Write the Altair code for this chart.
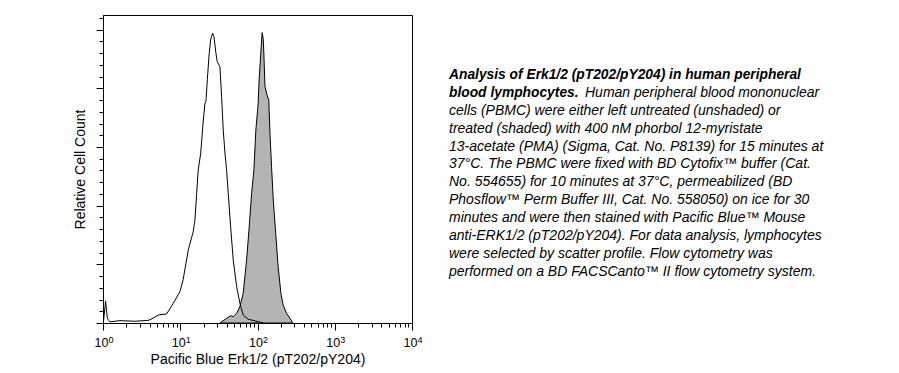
import altair as alt
import pandas as pd

# Untreated (unshaded) histogram: intensity vs relative count
untreated_x = [1.01, 1.08, 1.14, 1.23, 1.66, 2.59, 3.82, 4.06, 5.19, 6.67, 8.12, 9.91, 10.9, 12.7,
               14.7, 15.5, 16.3, 17.1, 18.4, 19.9, 20.9, 21.5, 22.4, 23.7, 24.7, 26.2, 27.3, 29.0,
               30.1, 32.6, 34.3, 36.0, 37.9, 39.8, 41.8, 44.9, 48.5, 53.7, 59.2, 65.3, 75.8, 107, 119]
untreated_y = [0, 7.5, 1.5, 0.4, 0.8, 0.6, 0.9, 1.1, 2.7, 3.1, 6.7, 10.7, 14.8, 24.9,
               31.1, 35.1, 44.2, 52.2, 57.9, 69.2, 74.9, 75.5, 82.9, 91.9, 96.5, 98.8, 97.6, 91.9,
               89.1, 87.4, 77.2, 65.9, 57.9, 52.2, 44.2, 32.8, 21.5, 12.4, 6.7, 2.7, 1.3, 0.3, 0]

# PMA treated (shaded) histogram
treated_x = [32.6, 39.8, 44.9, 48.5, 53.7, 59.2, 65.3, 72.3, 78.1, 83.9, 89.8, 95.3, 102, 105,
             110, 113, 115, 119, 121, 125, 133, 140, 145, 152, 160, 172, 185, 201, 215, 238,
             263, 281, 287]
treated_y = [0, 1.6, 2.5, 2.2, 3.3, 5.6, 10.1, 21.5, 32.8, 44.2, 52.2, 65.9, 74.9, 82.9,
             91.4, 96.5, 99.0, 96.5, 91.4, 80.6, 77.7, 76.0, 64.7, 53.3, 41.9, 30.6, 19.2, 10.1, 6.1, 3.3,
             1.6, 0.4, 0]

decades = [1, 10, 100, 1000, 10000]
exponents = ["0", "1", "2", "3", "4"]
x_ticks = [m * d for d in [1, 10, 100, 1000] for m in range(1, 10)] + [10000]
y_ticks = list(range(0, 105, 4))
y_major = [0, 20, 40, 60, 80, 100]

x_title = "Pacific Blue Erk1/2 (pT202/pY204)"
y_title = "Relative Cell Count"

caption_bold = ["Analysis of Erk1/2 (pT202/pY204) in human peripheral", "blood lymphocytes."]
caption_line2_rest = "Human peripheral blood mononuclear"
caption_rest = [
    "cells (PBMC) were either left untreated (unshaded) or",
    "treated (shaded) with 400 nM phorbol 12-myristate",
    "13-acetate (PMA) (Sigma, Cat. No. P8139) for 15 minutes at",
    "37\u00b0C. The PBMC were fixed with BD Cytofix\u2122 buffer (Cat.",
    "No. 554655) for 10 minutes at 37\u00b0C, permeabilized (BD",
    "Phosflow\u2122 Perm Buffer III, Cat. No. 558050) on ice for 30",
    "minutes and were then stained with Pacific Blue\u2122 Mouse",
    "anti-ERK1/2 (pT202/pY204). For data analysis, lymphocytes",
    "were selected by scatter profile. Flow cytometry was",
    "performed on a BD FACSCanto\u2122 II flow cytometry system.",
]

FONT = "Liberation Sans"

major_x_test = "indexof([" + ",".join(str(d) for d in decades) + "], datum.value) >= 0"
major_y_test = "indexof([" + ",".join(str(d) for d in y_major) + "], datum.value) >= 0"
label_expr = major_x_test.replace(">= 0", ">= 0 ? '10' : ''")

x_scale = alt.Scale(type="log", domain=[1, 10000], nice=False)
y_scale = alt.Scale(domain=[0, 105], nice=False, zero=True)

x_axis = alt.Axis(
    title=x_title, values=x_ticks, labelExpr=label_expr, labelFlush=False, labelOverlap=False,
    grid=False, domainColor="black", tickColor="black",
    tickSize={"condition": {"test": major_x_test, "value": 7}, "value": 4},
    labelFont=FONT, labelFontSize=12.5, labelColor="black", labelPadding=6, labelOffset=-2,
    titleFont=FONT, titleFontSize=14, titleFontWeight="normal", titleColor="black", titlePadding=4,
)
y_axis = alt.Axis(
    title=y_title, values=y_ticks, labels=False, grid=False, domainColor="black", tickColor="black",
    tickSize={"condition": {"test": major_y_test, "value": 7}, "value": 4},
    titleFont=FONT, titleFontSize=14, titleFontWeight="normal", titleColor="black", titlePadding=8,
)

df_t = pd.DataFrame({"x": treated_x, "y": treated_y})
df_u = pd.DataFrame({"x": untreated_x, "y": untreated_y})
df_e = pd.DataFrame({"x": decades, "e": exponents})

X = alt.X("x:Q", scale=x_scale, axis=x_axis)
area = alt.Chart(df_t).mark_area(fill="#b4b4b4", stroke="black", strokeWidth=1, clip=True).encode(
    x=X, y=alt.Y("y:Q", scale=y_scale, axis=y_axis),
)
line = alt.Chart(df_u).mark_line(color="black", strokeWidth=1, clip=True).encode(
    x=X, y=alt.Y("y:Q", scale=y_scale, axis=y_axis),
)
expo = alt.Chart(df_e).mark_text(
    font=FONT, fontSize=9, color="black", align="left", baseline="alphabetic", dx=5.5
).encode(x=X, y=alt.value(328), text="e:N")
hist = alt.layer(area, line, expo)

cap_scale = alt.Scale(domain=[-3.352, 13.855], reverse=True, nice=False, zero=False)
df_bold = pd.DataFrame({"i": [0, 1], "t": caption_bold})
df_l2 = pd.DataFrame({"i": [1], "t": [caption_line2_rest]})
df_rest = pd.DataFrame({"i": list(range(2, 2 + len(caption_rest))), "t": caption_rest})

text_kw = dict(font=FONT, fontStyle="italic", color="black", align="left", baseline="middle")
bold = alt.Chart(df_bold).mark_text(fontWeight="bold", fontSize=13.8, **text_kw).encode(
    x=alt.value(346), y=alt.Y("i:Q", scale=cap_scale, axis=None), text="t:N")
l2 = alt.Chart(df_l2).mark_text(dx=136, fontSize=14, **text_kw).encode(
    x=alt.value(346), y=alt.Y("i:Q", scale=cap_scale, axis=None), text="t:N")
rest = alt.Chart(df_rest).mark_text(fontSize=14, **text_kw).encode(
    x=alt.value(346), y=alt.Y("i:Q", scale=cap_scale, axis=None), text="t:N")
caption = alt.layer(bold, l2, rest)

chart = alt.layer(hist, caption).resolve_scale(y="independent").properties(
    width=309, height=308,
    autosize=alt.AutoSizeParams(type="none"),
    padding={"left": 103, "top": 15, "right": 487, "bottom": 50},
    background="white",
).configure_view(stroke="black", strokeWidth=1)

chart.save("out.html", embed_options={"renderer": "svg", "actions": False})
